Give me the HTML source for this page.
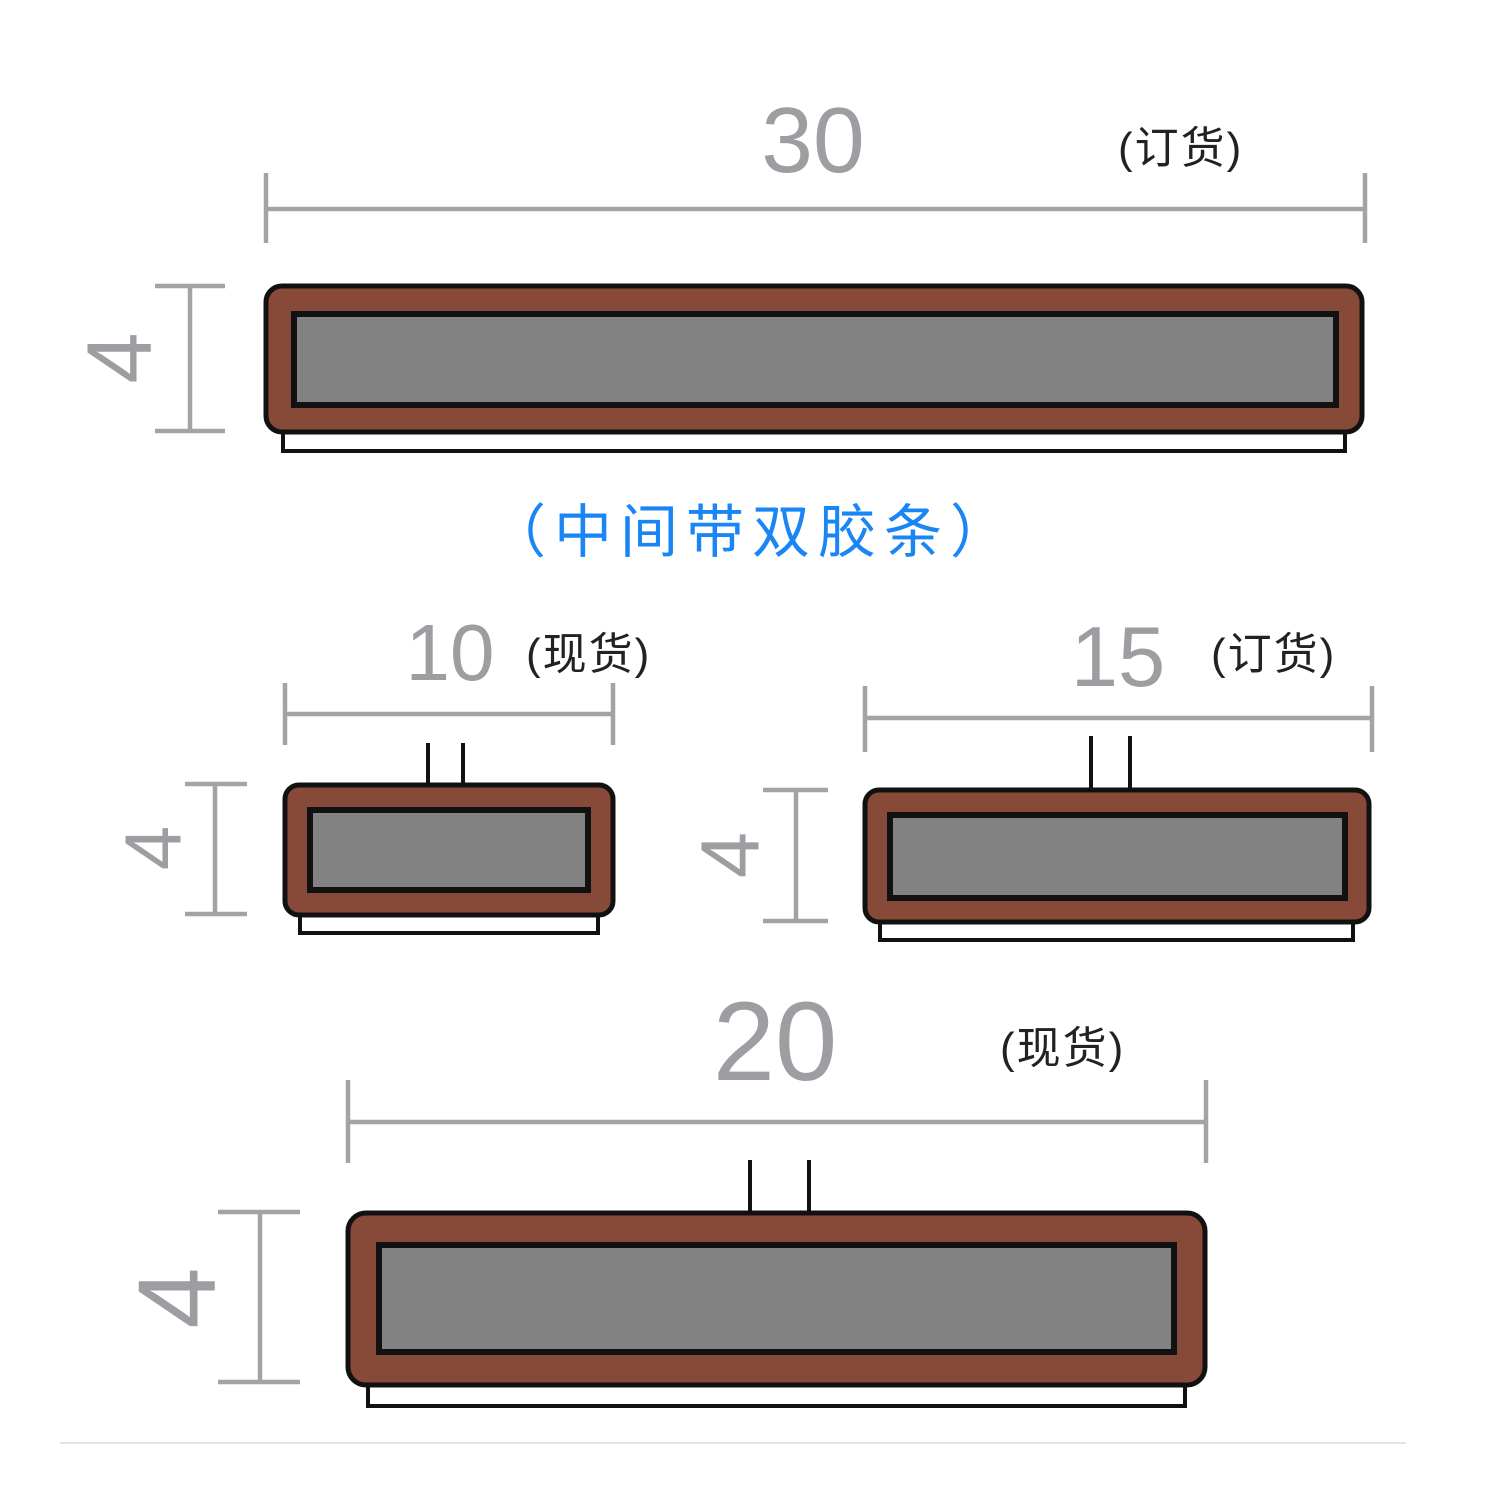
<!DOCTYPE html>
<html><head><meta charset="utf-8"><style>
html,body{margin:0;padding:0;background:#fff;}
svg{display:block;}
.n{font-family:"Liberation Sans",sans-serif;fill:#9e9ea2;text-anchor:middle;}
.c{font-family:"Liberation Sans","Noto Sans CJK SC",sans-serif;fill:#222;font-size:44px;letter-spacing:2px;}
.d{stroke:#a3a3a6;stroke-width:4.5;fill:none;}
.o{fill:#874a39;stroke:#111;stroke-width:5;}
.i{fill:#828283;stroke:#111;stroke-width:6;}
.s{fill:#fff;stroke:#111;stroke-width:4;}
.l{stroke:#111;stroke-width:4;}
</style></head><body>
<svg width="1506" height="1506" viewBox="0 0 1506 1506" xmlns="http://www.w3.org/2000/svg">
<!-- Part 1 -->
<text class="n" x="813" y="172" font-size="93">30</text>
<text class="c" x="1118" y="163">(订货)</text>
<path class="d" d="M266 209H1365M266 173V243M1365 173V243"/>
<path class="d" d="M190 286V431M155 286H225M155 431H225"/>
<text class="n" font-size="92" transform="translate(120 358) rotate(-90)" dominant-baseline="central">4</text>
<rect class="s" x="283" y="425" width="1062" height="26"/>
<rect class="o" x="266" y="286" width="1096" height="146" rx="16"/>
<rect class="i" x="294" y="314" width="1042" height="91"/>
<text x="752" y="552" font-size="58" fill="#1a86f5" font-family="'Liberation Sans','Noto Sans CJK SC',sans-serif" text-anchor="middle" letter-spacing="8">（中间带双胶条）</text>

<!-- Part 2 -->
<text class="n" x="450" y="680" font-size="80">10</text>
<text class="c" x="526" y="669">(现货)</text>
<path class="d" d="M285 714H613M285 683V745M613 683V745"/>
<path class="d" d="M215 784V914M185 784H247M185 914H247"/>
<text class="n" font-size="80" transform="translate(153 848) rotate(-90)" dominant-baseline="central">4</text>
<path class="l" d="M428 743V787M463 743V787"/>
<rect class="s" x="300" y="908" width="298" height="25"/>
<rect class="o" x="285" y="785" width="328" height="130" rx="14"/>
<rect class="i" x="310" y="810" width="278" height="80"/>

<!-- Part 3 -->
<text class="n" x="1118" y="686" font-size="85">15</text>
<text class="c" x="1211" y="669">(订货)</text>
<path class="d" d="M865 718H1372M865 686V752M1372 686V752"/>
<path class="d" d="M796 790V921M763 790H828M763 921H828"/>
<text class="n" font-size="83" transform="translate(730 855) rotate(-90)" dominant-baseline="central">4</text>
<path class="l" d="M1091 736V792M1130 736V792"/>
<rect class="s" x="880" y="915" width="473" height="25"/>
<rect class="o" x="865" y="790" width="504" height="132" rx="14"/>
<rect class="i" x="890" y="815" width="455" height="83"/>

<!-- Part 4 -->
<text class="n" x="775" y="1080" font-size="112">20</text>
<text class="c" x="1000" y="1063">(现货)</text>
<path class="d" d="M348 1122H1206M348 1080V1163M1206 1080V1163"/>
<path class="d" d="M260 1212V1382M218 1212H300M218 1382H300"/>
<text class="n" font-size="110" transform="translate(177 1298) rotate(-90)" dominant-baseline="central">4</text>
<path class="l" d="M750 1160V1215M809 1160V1215"/>
<rect class="s" x="368" y="1378" width="817" height="28"/>
<rect class="o" x="348" y="1213" width="857" height="172" rx="18"/>
<rect class="i" x="379" y="1245" width="795" height="107"/>

<line x1="60" y1="1443" x2="1406" y2="1443" stroke="#d8d8d8" stroke-width="1.5"/>
</svg>
</body></html>
